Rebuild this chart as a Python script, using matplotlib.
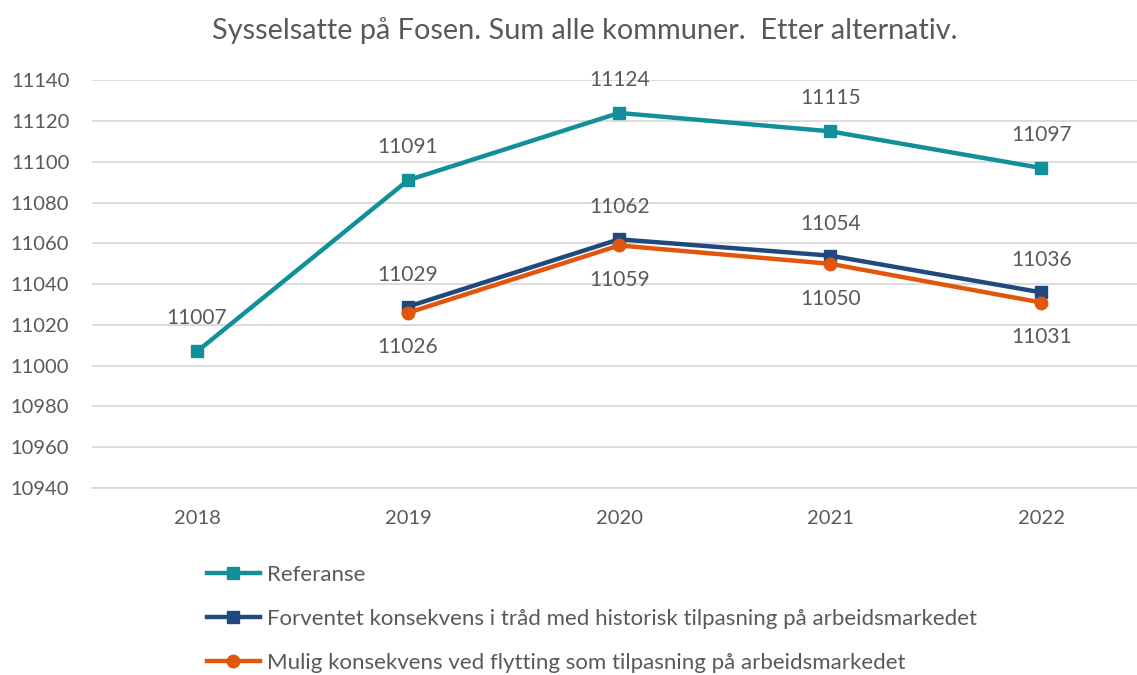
import numpy as np
import matplotlib
import matplotlib.pyplot as plt

matplotlib.use('agg')

years = ['2018', '2019', '2020', '2021', '2022']
referanse = [11007, 11091, 11124, 11115, 11097]
forventet = [np.nan, 11029, 11062, 11054, 11036]
mulig = [np.nan, 11026, 11059, 11050, 11031]

labels = [
    'Referanse',
    'Forventet konsekvens i tråd med historisk tilpasning på arbeidsmarkedet',
    'Mulig konsekvens ved flytting som tilpasning på arbeidsmarkedet',
]
colors = ['#12909A', '#204A7E', '#E2560C']
text_col = '#595959'

plt.rcParams['font.family'] = ['Lato', 'DejaVu Sans']

fig = plt.figure(figsize=(11.37, 6.75), dpi=100)
ax = fig.add_axes([0.0805, 0.277, 0.928, 0.604])

x = np.arange(len(years))
ax.plot(x, referanse, color=colors[0], lw=3.2, marker='s', ms=9, label=labels[0], zorder=3)
ax.plot(x, forventet, color=colors[1], lw=3.2, marker='s', ms=9, label=labels[1], zorder=3)
ax.plot(x, mulig, color=colors[2], lw=3.2, marker='o', ms=9, label=labels[2], zorder=4)

# data labels: referanse and forventet above, mulig below
for series, dy in [(referanse, 24), (forventet, 23), (mulig, -25)]:
    for i, v in enumerate(series):
        if np.isnan(v):
            continue
        ax.annotate(f'{v:.0f}', (x[i], v), xytext=(0, dy), textcoords='offset points',
                    ha='center', va='center', fontsize=15, color=text_col)

ax.set_xlim(-0.5, len(years) - 0.5)
ax.set_ylim(10940, 11140)
ax.set_yticks(np.arange(10940, 11141, 20))
ax.set_xticks(x)
ax.set_xticklabels(years)
ax.tick_params(axis='both', length=0, labelsize=14.5, labelcolor=text_col)
ax.tick_params(axis='y', pad=16)
ax.tick_params(axis='x', pad=16)
ax.grid(axis='y', color='#D9D9D9', lw=1.3)
ax.set_axisbelow(True)
for s in ['top', 'right', 'left']:
    ax.spines[s].set_visible(False)
ax.spines['bottom'].set_color('#D9D9D9')
ax.spines['bottom'].set_linewidth(1.3)

fig.text(0.514, 0.955, 'Sysselsatte på Fosen. Sum alle kommuner.  Etter alternativ.',
         ha='center', va='center', fontsize=20.8, color=text_col)

fig.legend(loc='upper left', bbox_to_anchor=(0.172, 0.18), frameon=False,
           fontsize=16, labelcolor=text_col, handlelength=2.4, handletextpad=0.3,
           labelspacing=1.08, borderpad=0)

fig.savefig('out.png', dpi=100)
